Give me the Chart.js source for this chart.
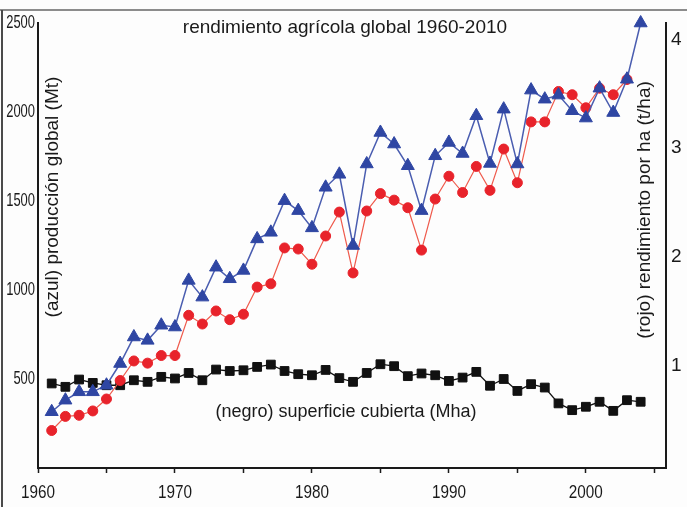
<!DOCTYPE html>
<html>
<head>
<meta charset="utf-8">
<title>rendimiento agrícola global 1960-2010</title>
<script src="https://cdn.jsdelivr.net/npm/chart.js@4.4.1/dist/chart.umd.min.js"></script>
<style>
  html, body { margin: 0; padding: 0; background: #fff; }
  #wrap { position: relative; width: 687px; height: 507px; overflow: hidden; background: #fdfdfd; }
  #frame-top { position: absolute; left: 0; top: 9px; width: 687px; height: 2px; background: #8c8c8c; }
  #frame-left { position: absolute; left: 1px; top: 10px; width: 2px; height: 497px; background: #4a4a4a; }
  canvas { position: absolute; left: 0; top: 0; }
</style>
</head>
<body>
<div id="wrap">
  <div id="frame-top"></div>
  <div id="frame-left"></div>
  <canvas id="chart" width="687" height="507"></canvas>
</div>
<script>
// ---- data ----
const YEARS = [1961, 1962, 1963, 1964, 1965, 1966, 1967, 1968, 1969, 1970,
               1971, 1972, 1973, 1974, 1975, 1976, 1977, 1978, 1979, 1980,
               1981, 1982, 1983, 1984, 1985, 1986, 1987, 1988, 1989, 1990,
               1991, 1992, 1993, 1994, 1995, 1996, 1997, 1998, 1999, 2000,
               2001, 2002, 2003, 2004];

// (azul) producción global, Mt – left axis
const PRODUCCION = [316, 381, 428, 428, 465, 587, 736, 717, 802, 792,
                    1054, 960, 1128, 1063, 1110, 1287, 1324, 1502, 1446, 1349,
                    1577, 1650, 1250, 1708, 1885, 1820, 1698, 1446, 1754, 1829,
                    1767, 1979, 1711, 2016, 1708, 2123, 2072, 2095, 2007, 1966,
                    2134, 1997, 2184, 2500];

// (rojo) rendimiento por ha, t/ha – right axis (1961-2003)
const RENDIMIENTO = [0.40, 0.53, 0.54, 0.58, 0.69, 0.86, 1.04, 1.02, 1.09, 1.09,
                     1.46, 1.38, 1.50, 1.42, 1.47, 1.72, 1.75, 2.08, 2.07, 1.93,
                     2.19, 2.41, 1.85, 2.42, 2.58, 2.52, 2.45, 2.06, 2.53, 2.74,
                     2.59, 2.83, 2.61, 2.99, 2.68, 3.24, 3.24, 3.52, 3.49, 3.37,
                     3.55, 3.49, 3.63];

// (negro) superficie cubierta, Mha – left axis
const SUPERFICIE = [475, 456, 497, 478, 465, 465, 493, 484, 512, 503,
                    534, 493, 553, 545, 549, 568, 581, 545, 527, 521,
                    551, 505, 484, 534, 583, 572, 516, 531, 521, 489,
                    508, 540, 462, 500, 433, 471, 452, 363, 325, 344,
                    372, 321, 381, 372];

const X_TICKS = [1960, 1965, 1970, 1975, 1980, 1985, 1990, 1995, 2000, 2005];
const X_LABELS = [1960, 1970, 1980, 1990, 2000];
const Y_LEFT_TICKS = [500, 1000, 1500, 2000, 2500];
const Y_RIGHT_TICKS = [1, 2, 3, 4];

const TITLE = 'rendimiento agrícola global 1960-2010';
const LABEL_AZUL = '(azul) producción global (Mt)';
const LABEL_ROJO = '(rojo) rendimiento por ha (t/ha)';
const LABEL_NEGRO = '(negro) superficie cubierta (Mha)';

// ---- styles ----
const INK = '#1a1a1a';
const SANS = "'Liberation Sans', Arial, Helvetica, sans-serif";
const BLUE = '#2f46a3';
const BLUE_LINE = '#4a5db0';
const RED = '#e8232b';
const RED_LINE = '#ef5a4c';

const pts = (vals) => vals.map((v, i) => ({ x: YEARS[i], y: v }));
const setTicks = (list) => (scale) => { scale.ticks = list.map(v => ({ value: v })); };

// tick labels (squeezed like the narrow face of the original) and free text
const textPlugin = {
  id: 'plotText',
  afterDraw(chart) {
    const ctx = chart.ctx;
    const { x, y, y2 } = chart.scales;
    ctx.save();
    ctx.fillStyle = INK;
    ctx.textBaseline = 'middle';

    // tick labels
    ctx.textAlign = 'center';
    ctx.font = '19px ' + SANS;
    X_LABELS.forEach(v => ctx.fillText(String(v), x.getPixelForValue(v), 493, 34));
    ctx.textAlign = 'right';
    ctx.font = '18px ' + SANS;
    Y_LEFT_TICKS.forEach(v => {
      const s = String(v);
      ctx.fillText(s, 35, y.getPixelForValue(v), 7.2 * s.length);
    });
    ctx.textAlign = 'left';
    ctx.font = '19px ' + SANS;
    Y_RIGHT_TICKS.forEach(v => ctx.fillText(String(v), 671, y2.getPixelForValue(v)));

    // title and labels
    ctx.textAlign = 'center';
    ctx.font = '19px ' + SANS;
    ctx.fillText(TITLE, 345, 28, 366);

    ctx.font = '18px ' + SANS;
    ctx.fillText(LABEL_NEGRO, 346, 412, 314);

    ctx.save();
    ctx.translate(53, 197);
    ctx.rotate(-Math.PI / 2);
    ctx.font = '19px ' + SANS;
    ctx.fillText(LABEL_AZUL, 0, 0, 276);
    ctx.restore();

    ctx.save();
    ctx.translate(645, 210);
    ctx.rotate(-Math.PI / 2);
    ctx.font = '19px ' + SANS;
    ctx.fillText(LABEL_ROJO, 0, 0, 297);
    ctx.restore();

    ctx.restore();
  }
};

new Chart(document.getElementById('chart'), {
  type: 'line',
  data: {
    datasets: [
      {
        label: 'producción',
        data: pts(PRODUCCION),
        yAxisID: 'y',
        borderColor: BLUE_LINE, borderWidth: 1.5,
        pointStyle: 'triangle', pointRadius: 7.5,
        pointBackgroundColor: BLUE, pointBorderColor: BLUE, pointBorderWidth: 1,
        tension: 0, clip: false
      },
      {
        label: 'rendimiento',
        data: pts(RENDIMIENTO),
        yAxisID: 'y2',
        borderColor: RED_LINE, borderWidth: 1.2,
        pointStyle: 'circle', pointRadius: 5,
        pointBackgroundColor: RED, pointBorderColor: RED, pointBorderWidth: 1,
        tension: 0, clip: false
      },
      {
        label: 'superficie',
        data: pts(SUPERFICIE),
        yAxisID: 'y',
        borderColor: '#111', borderWidth: 1.3,
        pointStyle: 'rect', pointRadius: 6.2,
        pointBackgroundColor: '#111', pointBorderColor: '#111', pointBorderWidth: 1,
        tension: 0, clip: false
      }
    ]
  },
  options: {
    responsive: false,
    devicePixelRatio: 1,
    animation: false,
    layout: { padding: { top: 23, left: 0, right: 0, bottom: 0 } },
    plugins: { legend: { display: false }, tooltip: { enabled: false } },
    scales: {
      x: {
        type: 'linear', min: 1960, max: 2005.85,
        afterBuildTicks: setTicks(X_TICKS),
        afterFit: (s) => { s.height = 39; },
        grid: { drawOnChartArea: false, tickLength: 5, color: INK, tickWidth: 1.5 },
        border: { display: true, color: INK, width: 2 },
        ticks: { display: false }
      },
      y: {
        position: 'left', min: 0, max: 2500,
        afterBuildTicks: setTicks(Y_LEFT_TICKS),
        afterFit: (s) => { s.width = 38; },
        grid: { display: false },
        border: { display: true, color: INK, width: 2 },
        ticks: { display: false }
      },
      y2: {
        position: 'right', min: 0.055, max: 4.15,
        afterBuildTicks: setTicks(Y_RIGHT_TICKS),
        afterFit: (s) => { s.width = 21; },
        grid: { display: false },
        border: { display: true, color: INK, width: 2 },
        ticks: { display: false }
      }
    }
  },
  plugins: [textPlugin]
});
</script>
</body>
</html>
